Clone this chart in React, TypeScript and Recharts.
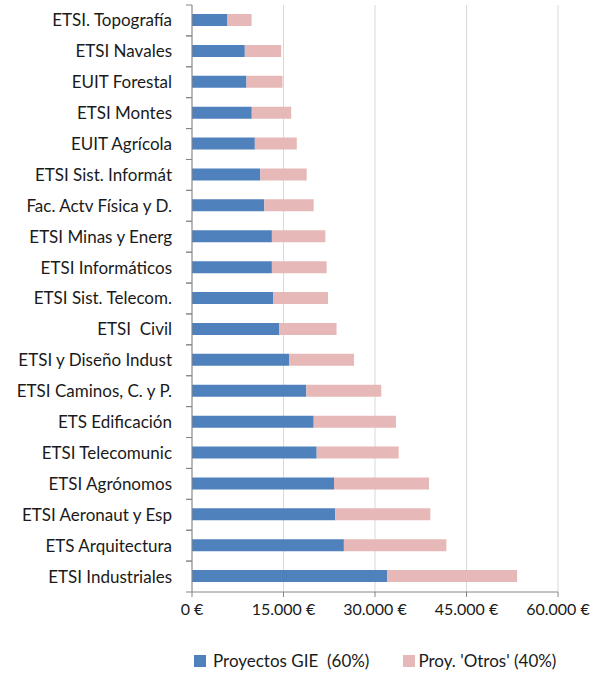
import React from "react";
import { BarChart, Bar, XAxis, YAxis, CartesianGrid } from "recharts";

const categories = [
  "ETSI. Topografía",
  "ETSI Navales",
  "EUIT Forestal",
  "ETSI Montes",
  "EUIT Agrícola",
  "ETSI Sist. Informát",
  "Fac. Actv Física y D.",
  "ETSI Minas y Energ",
  "ETSI Informáticos",
  "ETSI Sist. Telecom.",
  "ETSI  Civil",
  "ETSI y Diseño Indust",
  "ETSI Caminos, C. y P.",
  "ETS Edificación",
  "ETSI Telecomunic",
  "ETSI Agrónomos",
  "ETSI Aeronaut y Esp",
  "ETS Arquitectura",
  "ETSI Industriales",
];

const gieValues = [
  5820, 8660, 8930, 9800, 10300, 11200, 11860, 13100, 13100, 13280, 14260,
  15900, 18740, 19950, 20440, 23280, 23500, 24900, 31970,
];

const otrosValues = [
  3950, 5960, 5910, 6460, 6880, 7600, 8090, 8760, 8980, 9020, 9440, 10660,
  12290, 13490, 13440, 15570, 15570, 16800, 21330,
];

const xTicks = [0, 15000, 30000, 45000, 60000];

const seriesNames = ["Proyectos GIE  (60%)", "Proy. 'Otros' (40%)"];
const seriesColors = ["#4F81BD", "#E6B9B8"];

const data = categories.map((name, i) => ({
  name,
  gie: gieValues[i],
  otros: otrosValues[i],
}));

const W = 602;
const H = 673;
const margin = { top: 5, right: 44, bottom: 51, left: 0 };
const xAxisHeight = 30;
const plotHeight = H - margin.top - margin.bottom - xAxisHeight;
const halfBand = plotHeight / categories.length / 2;

const FONT = "Lato, 'Noto Sans', sans-serif";

const formatEuro = (v: number) => {
  const s = Math.round(v).toString().replace(/\B(?=(\d{3})+(?!\d))/g, ".");
  return `${s} €`;
};

const YTick = (props: any) => {
  const { x, y, payload } = props;
  return (
    <g>
      <line x1={x + 20} x2={x + 26} y1={y - halfBand} y2={y - halfBand} stroke="#868686" strokeWidth={1} />
      <line x1={x + 20} x2={x + 26} y1={y + halfBand} y2={y + halfBand} stroke="#868686" strokeWidth={1} />
      <text
        x={x + 6}
        y={y}
        dy="0.35em"
        textAnchor="end"
        fontSize={17}
        fontFamily={FONT}
        fill="#1a1a1a"
        style={{ whiteSpace: "pre" }}
      >
        {payload.value}
      </text>
    </g>
  );
};

export default function App() {
  return (
    <div style={{ position: "absolute", left: 0, top: 0, width: W, height: H, background: "#fff" }}>
      <BarChart
        width={W}
        height={H}
        data={data}
        layout="vertical"
        margin={margin}
        barSize={12}
      >
        <CartesianGrid horizontal={false} stroke="#d9d9d9" strokeWidth={1} />
        <XAxis
          type="number"
          domain={[0, 60000]}
          ticks={xTicks}
          tickFormatter={formatEuro}
          height={xAxisHeight}
          axisLine={{ stroke: "#868686" }}
          tickLine={{ stroke: "#868686" }}
          tickSize={5}
          tickMargin={7}
          tick={{ fontSize: 16, fontFamily: FONT, fill: "#1a1a1a" }}
          interval={0}
        />
        <YAxis
          type="category"
          dataKey="name"
          width={192}
          axisLine={{ stroke: "#868686" }}
          tickLine={false}
          tick={<YTick />}
          tickMargin={20}
          interval={0}
        />
        <Bar dataKey="gie" stackId="a" fill={seriesColors[0]} isAnimationActive={false} />
        <Bar dataKey="otros" stackId="a" fill={seriesColors[1]} isAnimationActive={false} />
      </BarChart>
      <div
        style={{
          position: "absolute",
          left: 194,
          top: 650,
          display: "flex",
          alignItems: "center",
          fontFamily: FONT,
          fontSize: 17,
          color: "#1a1a1a",
          whiteSpace: "pre",
        }}
      >
        <span style={{ width: 12, height: 12, background: seriesColors[0], display: "inline-block", marginRight: 7 }} />
        <span style={{ marginRight: 34 }}>{seriesNames[0]}</span>
        <span style={{ width: 12, height: 12, background: seriesColors[1], display: "inline-block", marginRight: 3 }} />
        <span>{seriesNames[1]}</span>
      </div>
    </div>
  );
}
